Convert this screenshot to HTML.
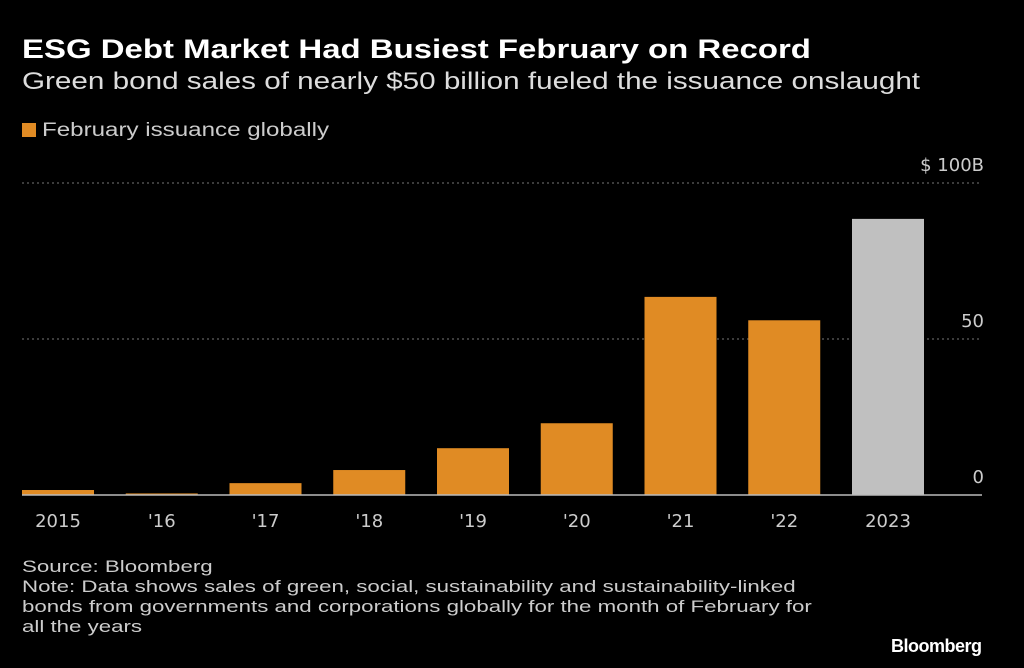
<!DOCTYPE html>
<html><head><meta charset="utf-8"><style>
body{margin:0;background:#000;width:1024px;height:668px;overflow:hidden;font-family:"Liberation Sans",sans-serif;color:#ddd;position:relative}
.t{position:absolute;white-space:nowrap;transform-origin:0 0}
</style></head><body>
<div class="t" style="left:22px;top:34px;font-size:27px;font-weight:bold;color:#fff;transform:scaleX(1.22)">ESG Debt Market Had Busiest February on Record</div>
<div class="t" style="left:22px;top:68px;font-size:24px;color:#ddd;transform:scaleX(1.235)">Green bond sales of nearly $50 billion fueled the issuance onslaught</div>
<div class="t" style="left:22px;top:120px;font-size:19px;color:#ccc"><span style="display:inline-block;width:14px;height:14px;background:#e08b24;margin-right:6px;vertical-align:-1px"></span><span style="display:inline-block;transform:scaleX(1.27);transform-origin:0 0">February issuance globally</span></div>
<svg id="chart" width="1024" height="540" style="position:absolute;left:0;top:0"></svg>
<div class="t" style="left:22px;top:557px;font-size:17px;line-height:20px;color:#ccc;transform:scaleX(1.31)">Source: Bloomberg<br>Note: Data shows sales of green, social, sustainability and sustainability-linked<br>bonds from governments and corporations globally for the month of February for<br>all the years</div>
<div class="t" style="left:891px;top:636px;font-size:18px;font-weight:bold;color:#fff;letter-spacing:-0.5px">Bloomberg</div>
<script>
const categories=["2015","'16","'17","'18","'19","'20","'21","'22","2023"];
const values=[1.6,0.5,3.8,8,15,23,63.5,56,88.5];
const tickValues=[0,50,100];
const tickLabels=["0","50","$ 100B"];
const svg=document.getElementById('chart');
const NS='http://www.w3.org/2000/svg';
const y=v=>495-v*3.12;
const x=i=>22+i*103.75;
const bw=72;
function mk(t,a){const e=document.createElementNS(NS,t);for(const k in a)e.setAttribute(k,a[k]);svg.appendChild(e);return e;}
tickValues.forEach((v,i)=>{
  if(v>0){const g=mk('line',{x1:22,x2:980,y1:y(v),y2:y(v),stroke:'#777','stroke-dasharray':'2,3','stroke-width':1});
  
  }
  const t=mk('text',{x:984,y:y(v)-12,'text-anchor':'end',fill:'#ccc','font-size':18,'font-family':'DejaVu Sans'});
  t.textContent=tickLabels[i];
  
  
});
values.forEach((v,i)=>{
  const r=mk('rect',{x:x(i),y:y(v),width:bw,height:495-y(v),fill:i==values.length-1?'#c0c0c0':'#e08b24'});
  
  
  const t=mk('text',{x:x(i)+bw/2,y:527,'text-anchor':'middle',fill:'#ccc','font-size':18,'font-family':'DejaVu Sans'});
  t.textContent=categories[i];
  
  
});
const b=mk('line',{x1:22,x2:982,y1:495,y2:495,stroke:'#bbb','stroke-width':1.5});


</script>
</body></html>
